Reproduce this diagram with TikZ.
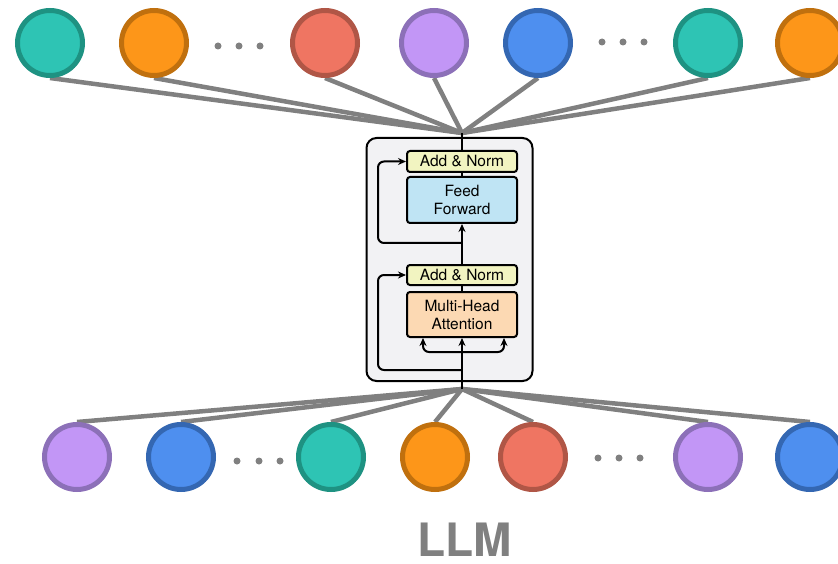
\documentclass[tikz,border=0pt]{standalone}
\usepackage{fontspec}
\setmainfont{TeX Gyre Heros}
\usetikzlibrary{arrows.meta,backgrounds}

% token colours
\definecolor{tealF}{HTML}{2EC4B4}\definecolor{tealD}{HTML}{1E9282}
\definecolor{orangeF}{HTML}{FD9619}\definecolor{orangeD}{HTML}{C0700E}
\definecolor{redF}{HTML}{EF7562}\definecolor{redD}{HTML}{B05646}
\definecolor{purpF}{HTML}{C296F6}\definecolor{purpD}{HTML}{8C70B8}
\definecolor{blueF}{HTML}{4E8FEF}\definecolor{blueD}{HTML}{3467B2}
\definecolor{edgeG}{HTML}{808080}
% block colours
\definecolor{normF}{HTML}{F2F4C1}
\definecolor{ffF}{HTML}{BFE4F4}
\definecolor{mhaF}{HTML}{FCD9B3}
\definecolor{blockF}{HTML}{F2F2F4}

\tikzset{
  token/.style={circle, minimum size=65pt, line width=5pt, inner sep=0pt},
  tk teal/.style={token, fill=tealF, draw=tealD},
  tk orange/.style={token, fill=orangeF, draw=orangeD},
  tk red/.style={token, fill=redF, draw=redD},
  tk purple/.style={token, fill=purpF, draw=purpD},
  tk blue/.style={token, fill=blueF, draw=blueD},
  fan/.style={draw=edgeG, line width=4.5pt},
  dot/.style={circle, fill=edgeG, minimum size=7pt, inner sep=0pt},
  layer/.style={draw=black, line width=2pt, rounded corners=3pt, minimum width=110pt,
                inner sep=0pt, align=center, font=\fontsize{15.5}{18}\selectfont},
  flow/.style={draw=black, line width=2pt, rounded corners=6pt, -{Stealth[length=8pt,width=7pt]}},
  plain/.style={draw=black, line width=2pt},
}

\begin{document}
\begin{tikzpicture}[x=1pt, y=-1pt]
\useasboundingbox (0,0) rectangle (838,564);
\clip (0,0) rectangle (838,564);

% convergence points of the token fans
\coordinate (top) at (462,133);
\coordinate (bot) at (462,389);

% output tokens
\foreach \n/\x/\s in {t1/50/teal, t2/154/orange, t3/325/red, t4/434/purple,
                      t5/538/blue, t6/708/teal, t7/810/orange}
  \path (\x,43) node[tk \s] (\n) {};
% input tokens
\foreach \n/\x/\s in {b1/77/purple, b2/181/blue, b3/331/teal, b4/435/orange,
                      b5/533/red, b6/708/purple, b7/810/blue}
  \path (\x,457) node[tk \s] (\n) {};

% fans, kept behind the tokens
\begin{scope}[on background layer]
  \foreach \n in {t1,t2,t3,t4,t5,t6,t7} \draw[fan] (\n.south) -- (top);
  \foreach \n in {b1,b2,b3,b4,b5,b6,b7} \draw[fan] (\n.north) -- (bot);
\end{scope}

% ellipses
\foreach \x in {218,239,260} \node[dot] at (\x,46) {};
\foreach \x in {602,623,644} \node[dot] at (\x,42) {};
\foreach \x in {237,259,280} \node[dot] at (\x,461) {};
\foreach \x in {598,619,640} \node[dot] at (\x,458) {};

% transformer block
\node[draw=black, line width=2pt, fill=blockF, rounded corners=10pt,
      minimum width=166pt, minimum height=243pt, inner sep=0pt] (block) at (449.5,259.5) {};

\node[layer, fill=normF, minimum height=21pt] (norm2) at (462,161.5) {Add \& Norm};
\node[layer, fill=ffF, minimum height=46pt] (ff) at (462,200) {Feed\\Forward};
\node[layer, fill=normF, minimum height=20pt] (norm1) at (462,275) {Add \& Norm};
\node[layer, fill=mhaF, minimum height=45pt] (mha) at (462,314.5) {Multi-Head\\Attention};

\coordinate (in) at (462,389);
\coordinate (split) at (462,352);
\coordinate (res1) at (462,370);
\coordinate (res2) at (462,243);

% main path
\draw[plain] (in) -- (split);
\draw[flow] (split) -- (mha.south);
\draw[flow] (split) -| ([xshift=-39pt]mha.south);
\draw[flow] (split) -| ([xshift=42pt]mha.south);
\draw[plain] (mha.north) -- (norm1.south);
\draw[flow] (norm1.north) -- (ff.south);
\draw[plain] (ff.north) -- (norm2.south);
\draw[plain] (norm2.north) -- (top);

% residual connections
\draw[flow] (res1) -- (378,370) -- (378,275) -- (norm1.west);
\draw[flow] (res2) -- (378,243) -- (378,161.5) -- (norm2.west);

% caption
\node[text=edgeG, inner sep=0pt, anchor=base,
      font=\fontsize{46}{48}\bfseries\selectfont] (title) at (465,556) {LLM};
\end{tikzpicture}
\end{document}
